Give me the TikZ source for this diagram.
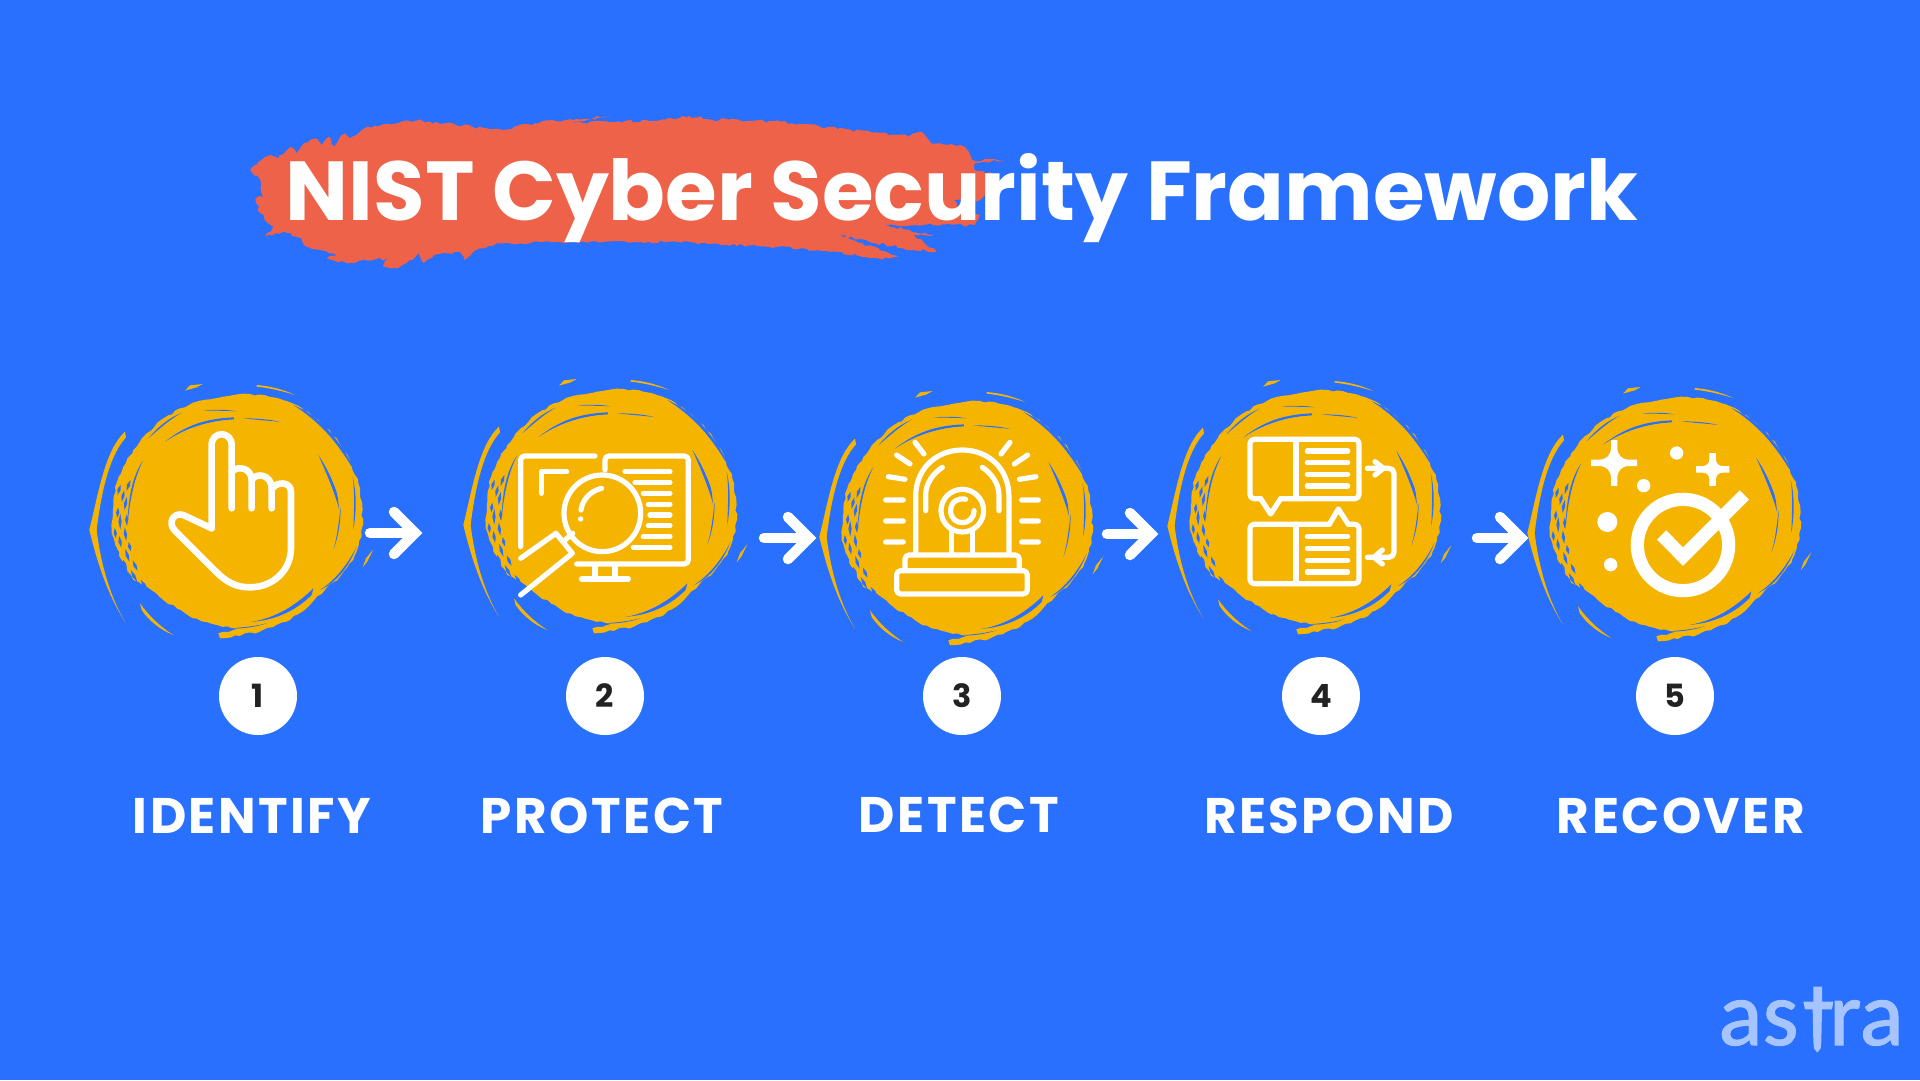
\documentclass[tikz,border=0pt]{standalone}
\usepackage{fontspec}
\usetikzlibrary{decorations.pathmorphing}
\setmainfont{Poppins}
\newfontfamily\labelfont[LetterSpace=5]{Poppins}
\newfontfamily\logofont[FakeBold=1.2]{Carlito}
\definecolor{bgblue}{HTML}{2970FF}
\definecolor{amber}{HTML}{F5B400}
\definecolor{brush}{HTML}{EE6249}
\definecolor{logoblue}{HTML}{A6C4FF}
\definecolor{numdark}{HTML}{222222}
\tikzset{
  iconline/.style={draw=white,line width=5.2pt,line cap=round,line join=round},
  thickicon/.style={draw=white,line width=6.6pt,line cap=round,line join=round},
  flowarrow/.style={draw=white,line width=10.5pt,line cap=round,line join=miter},
  numdisc/.style={circle,fill=white,minimum size=78pt,inner sep=0pt,text=numdark,font=\fontsize{32}{32}\selectfont\bfseries},
  steplabel/.style={text=white,anchor=base,inner sep=0pt,font=\fontsize{50}{50}\labelfont\bfseries},
  rough/.style={decorate,decoration={random steps,segment length=5pt,amplitude=1.1pt}},
  roughbrush/.style={decorate,decoration={random steps,segment length=4pt,amplitude=1.6pt}},
  zoomone/.style={shift={(80,360)},x=0.3333pt,y=-0.3333pt},
}
% scribbled disc, drawn in the coordinates of the first disc's crop
\newcommand{\scribble}[2]{%
\begin{scope}[shift={(#1,#2)}]
\begin{scope}[zoomone]
\pgfmathsetseed{4242}
\fill[amber,rough] (95,510)--(100,440)--(105,380)--(130,320)--(160,270)--(200,220)--(250,175)--(300,145)--(360,122)--(430,110)--(510,102)--(580,112)--(650,135)--(715,180)--(770,235)--(810,300)--(835,370)--(848,450)--(845,530)--(820,600)--(780,650)--(735,690)--(690,735)--(620,785)--(540,815)--(420,835)--(415,820)--(470,808)--(410,795)--(330,770)--(250,720)--(200,680)--(160,660)--(125,600)--(105,550)--cycle;
% loose strokes round the disc
\fill[amber] (135,215) .. controls (75,270) and (55,400) .. (28,510) .. controls (50,600) and (80,700) .. (135,785) .. controls (90,710) and (62,610) .. (50,510) .. controls (62,410) and (85,290) .. (138,232) -- cycle;
\fill[amber] (180,730) .. controls (205,765) and (240,800) .. (280,825) .. controls (240,810) and (205,780) .. (185,750) -- cycle;
\fill[amber] (315,92)--(330,76)--(368,72)--(350,82)--cycle;
\fill[amber] (530,75) .. controls (570,78) and (610,88) .. (645,105) .. controls (610,94) and (570,84) .. (530,80) -- cycle;
\fill[amber] (880,568)--(862,605)--(848,622)--(858,595)--cycle;
% blue gaps between the brush rings
\fill[bgblue] (255,245) .. controls (330,185) and (400,175) .. (462,172) -- (462,178) .. controls (400,182) and (330,195) .. (255,245) -- cycle;
\fill[bgblue] (490,175) .. controls (530,175) and (570,178) .. (600,186) .. controls (570,182) and (530,180) .. (490,175) -- cycle;
\fill[bgblue] (370,152) .. controls (400,148) and (440,148) .. (470,154) .. controls (440,152) and (400,152) .. (370,152) -- cycle;
\fill[bgblue] (205,235) .. controls (235,200) and (265,175) .. (305,158) .. controls (270,178) and (240,205) .. (205,235) -- cycle;
\fill[bgblue] (190,300) .. controls (160,345) and (145,400) .. (142,500) .. controls (150,410) and (165,350) .. (190,300) -- cycle;
\fill[bgblue] (715,285) .. controls (745,330) and (770,380) .. (778,450) .. controls (765,400) and (740,340) .. (715,285) -- cycle;
\fill[bgblue] (750,350) .. controls (762,375) and (775,400) .. (775,430) .. controls (765,400) and (755,375) .. (750,350) -- cycle;
\fill[bgblue] (782,440) .. controls (782,490) and (775,530) .. (760,570) .. controls (772,530) and (776,490) .. (782,440) -- cycle;
\fill[bgblue] (640,135) .. controls (710,165) and (770,220) .. (815,320) .. controls (765,235) and (710,180) .. (640,135) -- cycle;
\fill[bgblue] (720,190) .. controls (770,235) and (810,290) .. (832,350) .. controls (805,295) and (765,245) .. (720,190) -- cycle;
\fill[bgblue] (818,350) .. controls (830,400) and (830,450) .. (820,510) .. controls (822,450) and (825,400) .. (818,350) -- cycle;
\fill[bgblue] (500,786) .. controls (570,780) and (640,745) .. (700,685) -- (695,705) .. controls (640,760) and (570,785) .. (500,786) -- cycle;
\fill[bgblue] (420,806) .. controls (470,805) and (520,800) .. (560,790) .. controls (520,804) and (470,808) .. (420,806) -- cycle;
\fill[bgblue] (720,690) .. controls (760,665) and (800,620) .. (830,560) .. controls (805,625) and (765,670) .. (720,690) -- cycle;
\fill[bgblue] (172,700) .. controls (215,745) and (270,775) .. (330,775) .. controls (265,780) and (210,750) .. (172,700) -- cycle;
% frayed slits at the lower left
\foreach \slA/\slR/\slD in {186/330/7,182/350/5,178/322/6,176/342/8,172/358/5,170/328/7,167/347/6,164/322/5,162/362/6,159/336/7,156/352/5,153/325/6,151/370/5,148/342/7,145/358/6,142/330/6,139/374/5,137/348/7,134/362/5,131/335/6,128/352/5,190/342/6,193/358/5,196/335/6}{
  \pgfmathsetmacro{\slEnd}{\slA+\slD}
  \pgfmathsetmacro{\slMid}{\slA+\slD/2}
  \pgfmathsetmacro{\slOut}{\slR+5}
  \pgfmathsetmacro{\slIn}{\slR-5}
  \fill[bgblue] ([shift={(\slA:\slR)}]462,485) -- ([shift={(\slMid:\slOut)}]462,485) -- ([shift={(\slEnd:\slR)}]462,485) -- ([shift={(\slMid:\slIn)}]462,485) -- cycle;
}
\fill[amber] (462,485) circle[radius=305];
\end{scope}
\end{scope}}
\begin{document}
\begin{tikzpicture}[x=1pt,y=-1pt]
\useasboundingbox (0,0) rectangle (1920,1080);
\fill[bgblue] (0,0) rectangle (1920,1080);

% title brush stroke
\begin{scope}[shift={(240,100)},x=0.5102pt,y=-0.3333pt]
\pgfmathsetseed{77}
\fill[brush,roughbrush] (20,210)--(50,170)--(60,165)--(75,175)--(100,140)--(110,160)--(125,130)--(150,115)--(160,135)--(175,110)--(185,140)--(205,100)--(215,115)--(250,80)--(345,62)--(400,70)--(515,90)--(590,65)--(725,48)--(640,68)--(820,62)--(880,48)--(920,58)--(1060,65)--(1100,72)--(1310,110)--(1335,95)--(1355,130)--(1420,140)--(1435,180)--(1500,180)--(1440,190)--(1440,210)--(1490,225)--(1450,300)--(1400,300)--(1405,322)--(1450,345)--(1440,375)--(1265,375)--(1360,405)--(1320,405)--(1365,455)--(1300,445)--(1175,405)--(1290,470)--(1250,475)--(1100,445)--(840,425)--(720,425)--(510,430)--(470,445)--(440,480)--(430,455)--(380,465)--(360,490)--(350,460)--(310,505)--(280,500)--(290,475)--(210,490)--(170,475)--(190,465)--(130,440)--(120,415)--(85,395)--(50,410)--(65,380)--(40,340)--(30,295)--(45,290)--(40,240)--cycle;
\end{scope}
\node[text=white,anchor=base,inner sep=0pt,font=\fontsize{83.7}{84}\selectfont\bfseries] (title) at (962,220) {NIST Cyber Security Framework};

% discs
\scribble{0}{0}
\scribble{374}{-5}
\scribble{730}{7}
\scribble{1078}{-4}
\scribble{1438}{3}

% icon 1: hand
\begin{scope}[zoomone]
\draw[thickicon] (395,505) -- (310,465) .. controls (280,455) and (262,490) .. (285,512) -- (405,632) .. controls (440,668) and (470,682) .. (510,682) .. controls (580,682) and (633,630) .. (633,565) -- (633,395) .. controls (633,365) and (590,362) .. (575,388);
\draw[thickicon] (395,505) -- (395,255) .. controls (395,212) and (455,212) .. (455,255) -- (455,445);
\draw[thickicon] (455,335) .. controls (475,315) and (515,325) .. (515,360) -- (515,445);
\draw[thickicon] (515,360) .. controls (530,335) and (575,345) .. (575,385) -- (575,445);
\end{scope}

% icon 2: monitor and magnifier
\begin{scope}[shift={(450,370)},x=0.3333pt,y=-0.3333pt]
\draw[iconline,rounded corners=4pt] (212,530) -- (212,258) -- (435,258);
\draw[iconline,rounded corners=4pt] (465,300) -- (465,258) -- (715,258) -- (715,582) -- (380,582);
\draw[iconline] (435,590) -- (435,625) (495,590) -- (495,625) (395,627) -- (535,627);
\draw[iconline] (275,370) -- (275,305) -- (350,305);
\foreach \ly/\lx in {305/525,337/555,370/580,403/595,435/600,467/595,500/580,532/550}{
  \draw[iconline] (\lx,\ly) -- (660,\ly);
}
\draw[iconline] (457,430) circle[radius=115];
\draw[iconline] (393,420) .. controls (398,385) and (425,362) .. (455,355);
\fill[white] (392,447) circle[radius=8];
\draw[iconline] (212,565) -- (318,490) -- (367,550) -- (212,675);
\draw[iconline] (345,510) -- (368,490);
\end{scope}

% icon 3: siren
\begin{scope}[shift={(820,380)},x=0.3333pt,y=-0.3333pt]
\draw[iconline] (287,520) -- (287,350) .. controls (287,265) and (350,210) .. (427,210) .. controls (504,210) and (567,265) .. (567,350) -- (567,520);
\draw[iconline] (317,392) -- (317,345) .. controls (317,310) and (340,280) .. (367,262);
\draw[iconline] (537,392) -- (537,345) .. controls (537,310) and (514,280) .. (487,262);
\draw[iconline] (427,392) circle[radius=64];
\draw[iconline] (462,392) .. controls (462,440) and (392,440) .. (392,392) .. controls (392,365) and (415,352) .. (437,358);
\draw[iconline] (395,455) -- (395,520) (458,455) -- (458,520);
\draw[iconline,rounded corners=4pt] (255,570) -- (255,525) -- (598,525) -- (598,570);
\draw[iconline,rounded corners=4pt] (230,572) rectangle (622,642);
\draw[iconline] (197,360) -- (250,360) (197,423) -- (250,423) (197,486) -- (250,486) (205,290) -- (255,298) (230,225) -- (270,252) (285,187) -- (312,222);
\draw[iconline] (605,360) -- (655,360) (605,423) -- (655,423) (605,486) -- (655,486) (598,298) -- (648,290) (583,252) -- (623,225) (543,222) -- (570,187);
\end{scope}

% icon 4: two panels
\begin{scope}[shift={(1170,370)},x=0.3333pt,y=-0.3333pt]
\draw[iconline,rounded corners=4pt] (272,386) -- (240,386) -- (240,208) -- (567,208) -- (567,386) -- (332,386);
\draw[iconline] (272,386) -- (302,432) -- (332,386);
\draw[iconline] (378,208) -- (378,386);
\foreach \ly in {243,278,313,348}{\draw[iconline] (412,\ly) -- (533,\ly);}
\draw[iconline,rounded corners=4pt] (478,463) -- (240,463) -- (240,641) -- (567,641) -- (567,463) -- (535,463);
\draw[iconline] (478,463) -- (505,417) -- (535,463);
\draw[iconline] (378,463) -- (378,641);
\foreach \ly in {500,536,571,606}{\draw[iconline] (412,\ly) -- (533,\ly);}
\draw[iconline,rounded corners=5pt] (592,295) -- (672,295) -- (672,562) -- (592,562);
\draw[iconline] (615,275) -- (640,295) -- (615,315);
\draw[iconline] (637,540) -- (612,562) -- (637,582);
\end{scope}

% icon 5: sparkles and checked ring
\begin{scope}[shift={(1530,370)},x=0.3333pt,y=-0.3333pt]
\fill[white] (243,210) -- (262,210) -- (262,232) .. controls (262,255) and (275,269) .. (298,269) -- (321,269) -- (321,288) -- (298,288) .. controls (275,288) and (262,302) .. (262,325) -- (262,348) -- (243,348) -- (243,325) .. controls (243,302) and (230,288) .. (206,288) -- (183,288) -- (183,269) -- (206,269) .. controls (230,269) and (243,255) .. (243,232) -- cycle;
\fill[white] (538,249) -- (558,249) -- (558,268) .. controls (558,280) and (566,288) .. (578,288) -- (598,288) -- (598,308) -- (578,308) .. controls (566,308) and (558,316) .. (558,328) -- (558,348) -- (538,348) -- (538,328) .. controls (538,316) and (530,308) .. (518,308) -- (498,308) -- (498,288) -- (518,288) .. controls (530,288) and (538,280) .. (538,268) -- cycle;
\fill[white] (440,249) circle[radius=20] (341,347) circle[radius=20] (232,456) circle[radius=30] (242,584) circle[radius=20];
\draw[white,line width=13.2pt] (459,525) circle[radius=137];
\draw[white,line width=13pt,line join=miter] (395,495) -- (459,560) -- (643,375);
\end{scope}

% flow arrows
\coordinate (a1s) at (370,533); \coordinate (a1e) at (415,533);
\coordinate (a2s) at (764,538); \coordinate (a2e) at (809,538);
\coordinate (a3s) at (1107,534); \coordinate (a3e) at (1151,534);
\coordinate (a4s) at (1477,538); \coordinate (a4e) at (1521,538);
\foreach \st/\en in {a1s/a1e,a2s/a2e,a3s/a3e,a4s/a4e}{
  \draw[flowarrow] (\st) -- (\en);
  \draw[flowarrow] ([shift={(-21,-21)}]\en) -- (\en) -- ([shift={(-21,21)}]\en);
}

% numbers
\node[numdisc] (n1) at (258,696) {1};
\node[numdisc] (n2) at (605,696) {2};
\node[numdisc] (n3) at (962,696) {3};
\node[numdisc] (n4) at (1321,696) {4};
\node[numdisc] (n5) at (1675,696) {5};

% labels
\node[steplabel] (l1) at (252,833) {IDENTIFY};
\node[steplabel] (l2) at (602,833) {PROTECT};
\node[steplabel] (l3) at (959,832) {DETECT};
\node[steplabel] (l4) at (1329,833) {RESPOND};
\node[steplabel] (l5) at (1681,833) {RECOVER};

% logo
\node[anchor=base,inner sep=0pt,font=\fontsize{92}{92}\logofont] (logo) at (1811,1045) {\textcolor{logoblue}{as}\textcolor{bgblue}{t}\textcolor{logoblue}{ra}};
\begin{scope}[shift={(1700,960)},x=0.3333pt,y=-0.3333pt]
\fill[logoblue] (340,80) -- (366,80) -- (366,125) -- (400,125) -- (396,148) -- (366,148) -- (364,245) -- (362,265) -- (352,278) -- (342,265) -- (340,245) -- (338,148) -- (315,148) -- (310,125) -- (340,125) -- cycle;
\end{scope}
\end{tikzpicture}
\end{document}
